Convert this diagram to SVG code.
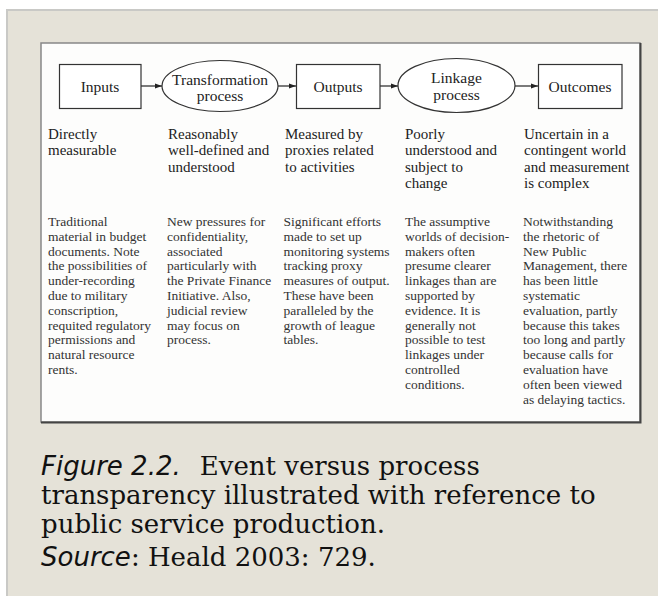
<svg xmlns="http://www.w3.org/2000/svg" width="658" height="596" viewBox="0 0 658 596">
<defs>
<style>
.box{fill:#fff;stroke:#333;stroke-width:1.2}
.lbl{font-family:"Liberation Serif","Times New Roman",serif;font-size:15.5px;fill:#222;text-anchor:middle}
.hd{font-family:"Liberation Serif","Times New Roman",serif;font-size:15px;fill:#222}
.bd{font-family:"Liberation Serif","Times New Roman",serif;font-size:13.5px;fill:#333}
.cap{font-family:"DejaVu Serif",serif;font-size:26px;fill:#111}
.it{font-family:"DejaVu Sans",sans-serif;font-style:italic;font-size:26px}
.con{stroke:#222;stroke-width:1.2;fill:none;marker-end:url(#ah)}
</style>
<marker id="ah" viewBox="0 0 10 10" refX="10" refY="5" markerWidth="7" markerHeight="7" markerUnits="userSpaceOnUse" orient="auto">
<path d="M0,1.5 L10,5 L0,8.5 Z" fill="#222"/>
</marker>
</defs>
<rect x="7" y="10" width="660" height="600" fill="#E5E2D8" stroke="#C9C9C6" stroke-width="2"/>
<rect x="41" y="43" width="599" height="379" fill="#FDFDFC" stroke="#888" stroke-width="1.5"/>
<path d="M640.5,43 V422.5 H41" fill="none" stroke="#444" stroke-width="2"/>
<g id="connectors">
<line class="con" x1="141" y1="86" x2="162" y2="86"/>
<line class="con" x1="278" y1="86" x2="296" y2="86"/>
<line class="con" x1="380" y1="86" x2="398" y2="86"/>
<line class="con" x1="515" y1="86" x2="538" y2="86"/>
</g>
<g id="inputs">
<rect class="box" x="59.5" y="64.5" width="81.5" height="44"/>
<text class="lbl" x="100" y="92">Inputs</text>
</g>
<g id="transformation">
<ellipse class="box" cx="220" cy="86" rx="58" ry="25.5"/>
<text class="lbl" x="220" y="85">Transformation</text>
<text class="lbl" x="220" y="101">process</text>
</g>
<g id="outputs">
<rect class="box" x="296.5" y="64.5" width="83.5" height="44"/>
<text class="lbl" x="338" y="92">Outputs</text>
</g>
<g id="linkage">
<ellipse class="box" cx="456.5" cy="85.5" rx="58.5" ry="27"/>
<text class="lbl" x="456.5" y="83">Linkage</text>
<text class="lbl" x="456.5" y="100">process</text>
</g>
<g id="outcomes">
<rect class="box" x="538.5" y="64.5" width="83.5" height="44"/>
<text class="lbl" x="580" y="92">Outcomes</text>
</g>
<g id="headings" class="hd">
<text x="48" y="138.5"><tspan x="48">Directly</tspan><tspan x="48" dy="16.5">measurable</tspan></text>
<text x="168" y="138.5"><tspan x="168">Reasonably</tspan><tspan x="168" dy="16.5">well-defined and</tspan><tspan x="168" dy="16.5">understood</tspan></text>
<text x="285" y="138.5"><tspan x="285">Measured by</tspan><tspan x="285" dy="16.5">proxies related</tspan><tspan x="285" dy="16.5">to activities</tspan></text>
<text x="405" y="138.5"><tspan x="405">Poorly</tspan><tspan x="405" dy="16.5">understood and</tspan><tspan x="405" dy="16.5">subject to</tspan><tspan x="405" dy="16.5">change</tspan></text>
<text x="524" y="138.5"><tspan x="524">Uncertain in a</tspan><tspan x="524" dy="16.5">contingent world</tspan><tspan x="524" dy="16.5">and measurement</tspan><tspan x="524" dy="16.5">is complex</tspan></text>
</g>
<g id="details" class="bd">
<text x="48" y="226"><tspan x="48">Traditional</tspan><tspan x="48" dy="14.8">material in budget</tspan><tspan x="48" dy="14.8">documents. Note</tspan><tspan x="48" dy="14.8">the possibilities of</tspan><tspan x="48" dy="14.8">under-recording</tspan><tspan x="48" dy="14.8">due to military</tspan><tspan x="48" dy="14.8">conscription,</tspan><tspan x="48" dy="14.8">requited regulatory</tspan><tspan x="48" dy="14.8">permissions and</tspan><tspan x="48" dy="14.8">natural resource</tspan><tspan x="48" dy="14.8">rents.</tspan></text>
<text x="167" y="226"><tspan x="167">New pressures for</tspan><tspan x="167" dy="14.8">confidentiality,</tspan><tspan x="167" dy="14.8">associated</tspan><tspan x="167" dy="14.8">particularly with</tspan><tspan x="167" dy="14.8">the Private Finance</tspan><tspan x="167" dy="14.8">Initiative. Also,</tspan><tspan x="167" dy="14.8">judicial review</tspan><tspan x="167" dy="14.8">may focus on</tspan><tspan x="167" dy="14.8">process.</tspan></text>
<text x="283.5" y="226"><tspan x="283.5">Significant efforts</tspan><tspan x="283.5" dy="14.8">made to set up</tspan><tspan x="283.5" dy="14.8">monitoring systems</tspan><tspan x="283.5" dy="14.8">tracking proxy</tspan><tspan x="283.5" dy="14.8">measures of output.</tspan><tspan x="283.5" dy="14.8">These have been</tspan><tspan x="283.5" dy="14.8">paralleled by the</tspan><tspan x="283.5" dy="14.8">growth of league</tspan><tspan x="283.5" dy="14.8">tables.</tspan></text>
<text x="405" y="226"><tspan x="405">The assumptive</tspan><tspan x="405" dy="14.8">worlds of decision-</tspan><tspan x="405" dy="14.8">makers often</tspan><tspan x="405" dy="14.8">presume clearer</tspan><tspan x="405" dy="14.8">linkages than are</tspan><tspan x="405" dy="14.8">supported by</tspan><tspan x="405" dy="14.8">evidence. It is</tspan><tspan x="405" dy="14.8">generally not</tspan><tspan x="405" dy="14.8">possible to test</tspan><tspan x="405" dy="14.8">linkages under</tspan><tspan x="405" dy="14.8">controlled</tspan><tspan x="405" dy="14.8">conditions.</tspan></text>
<text x="523" y="226"><tspan x="523">Notwithstanding</tspan><tspan x="523" dy="14.8">the rhetoric of</tspan><tspan x="523" dy="14.8">New Public</tspan><tspan x="523" dy="14.8">Management, there</tspan><tspan x="523" dy="14.8">has been little</tspan><tspan x="523" dy="14.8">systematic</tspan><tspan x="523" dy="14.8">evaluation, partly</tspan><tspan x="523" dy="14.8">because this takes</tspan><tspan x="523" dy="14.8">too long and partly</tspan><tspan x="523" dy="14.8">because calls for</tspan><tspan x="523" dy="14.8">evaluation have</tspan><tspan x="523" dy="14.8">often been viewed</tspan><tspan x="523" dy="14.8">as delaying tactics.</tspan></text>
</g>
<g id="caption" class="cap">
<text x="41" y="475"><tspan class="it">Figure 2.2.</tspan><tspan dx="19">Event versus process</tspan></text>
<text x="41" y="504">transparency illustrated with reference to</text>
<text x="41" y="533">public service production.</text>
<text x="41" y="566"><tspan class="it">Source</tspan>: Heald 2003: 729.</text>
</g>
</svg>
